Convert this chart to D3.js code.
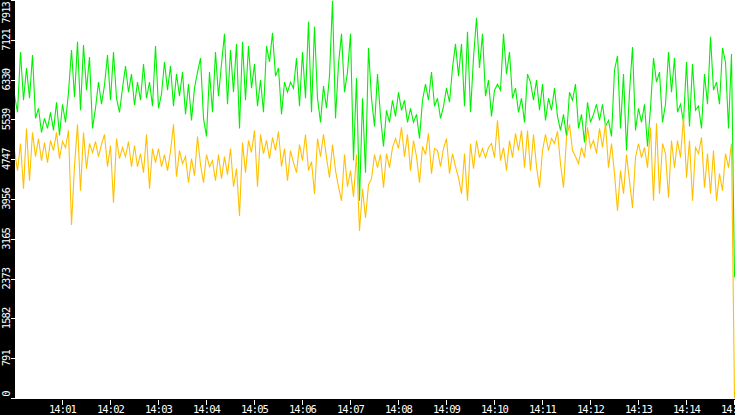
<!DOCTYPE html>
<html>
<head>
<meta charset="utf-8">
<script src="https://cdn.jsdelivr.net/npm/d3@7"></script>
<style>
  html, body { margin: 0; padding: 0; background: #000; }
  svg { display: block; }
  .tick-label { fill: #fff; font-family: "DejaVu Sans Mono", monospace; font-size: 10.5px; letter-spacing: -0.9px; }
</style>
</head>
<body>
<div id="chart"></div>
<script>
// -- DATA -- //
// samples every 3.75 s from 14:00:00 to 14:15:00
const sampleStart = new Date(2024, 0, 1, 14, 0, 0);
const sampleStepMs = 3750;

// green series
const inValues = [
  6020,5680,6880,5920,6560,5960,6820,5560,5760,5280,
  5560,5360,5680,5320,5880,5220,5840,5480,6080,6920,
  5980,7080,5720,7020,6120,6780,5360,5760,6280,5840,
  6220,6820,5920,6880,5960,5680,6160,6600,6080,6440,
  5820,6280,5920,6640,5960,6280,5800,7000,5760,6040,
  6680,6120,6600,5800,6440,6000,6480,5640,6240,5520,
  6160,6480,6760,5560,5200,6480,5680,6880,6000,6640,
  7240,5840,6920,6080,7040,5360,7080,5920,7000,6160,
  6640,5800,6320,5680,7000,6680,7260,6400,6560,5640,
  6280,6080,6280,6160,6760,5800,6880,5960,7480,5680,
  7380,5960,5480,6200,5760,6400,7900,5560,6640,7240,
  6080,6480,7240,4720,6360,3920,5960,4480,6960,5960,
  5400,6440,5600,5000,5720,5480,5920,5600,6080,5720,
  5920,5480,5760,5480,5640,5160,5920,6240,5920,6480,
  5800,5960,5560,5800,6160,5880,6560,7040,6400,7040,
  5800,7280,5680,6760,7560,6560,7240,6000,6320,5600,
  6120,6240,6120,7240,6440,6880,5960,6160,5680,5960,
  5480,6440,6280,5920,6320,5720,6240,5520,5960,5720,
  6160,5600,5320,5640,5200,6080,5920,6240,5360,5640,
  5080,5880,5480,5640,5840,5520,5840,5400,5520,5200,
  6520,6800,5360,6440,4920,6080,6980,5320,5760,5480,
  5840,5000,5760,6760,6280,6480,5480,5840,6880,6080,
  6760,5680,5840,5480,6680,5400,6640,5720,5800,5360,
  6440,5840,7180,6120,6280,5840,6960,6680,5360,6840,
  2400
];

// orange series
const outValues = [
  4920,4520,5060,4160,5360,4320,5280,4800,5160,4720,
  5080,4680,5120,4920,5280,4760,5100,4980,5320,3440,
  4620,5440,4120,5280,4560,5060,4880,5100,4800,5040,
  5240,4600,5020,3880,5160,4760,4980,4800,5100,4600,
  5020,4600,4860,4480,5240,4160,4960,4680,4960,4600,
  4840,4520,4900,5440,4400,4920,4660,4800,4280,4760,
  4420,5200,4640,4280,4840,4600,4720,4320,4840,4360,
  4800,4440,4960,4200,4560,3620,5080,4480,5120,4880,
  5320,4200,5240,4860,5120,4760,5180,4920,5300,4600,
  4960,4320,4920,4680,4480,5040,4720,5240,4520,4700,
  4060,5160,4800,5240,4780,4380,5040,4520,4200,3920,
  4840,4200,4520,4000,4840,3320,4160,3580,4240,4360,
  4840,4580,4840,4180,4860,4580,4980,5160,4960,5380,
  4800,5240,4520,5120,4800,4280,5000,4840,5260,4460,
  4960,4920,4600,4960,5160,4460,4860,4600,4380,4060,
  4860,3920,5060,4560,5120,4780,4960,4780,4980,5060,
  4780,5520,4720,4980,4520,5120,4780,5260,4920,5320,
  4580,5320,4520,5240,4600,4180,4920,5240,4920,5160,
  5060,5300,4660,4180,5180,5440,4920,4800,4660,4980,
  4780,5380,4980,5120,4860,5360,4980,5460,4580,5060,
  4460,3720,4520,4060,4840,4320,3780,4780,5060,4780,
  4980,4580,5380,3920,5460,4060,5060,4860,3980,5120,
  4580,5120,4780,5580,4380,5120,3920,4980,4860,5180,
  4180,4860,4060,4920,3920,4460,4120,4860,4580,5060,
  0
];

const yMax = 7913;
const yTickLabels = ["0","791","1582","2373","3165","3956","4747","5539","6330","7121","7913"];
const xTickLabels = ["14:01","14:02","14:03","14:04","14:05","14:06","14:07","14:08",
                     "14:09","14:10","14:11","14:12","14:13","14:14","14:15"];

const width = 735;
const height = 415;
const plotLeft = 15;
const plotBottom = 398;

// -- SCALES -- //
const x = d3.scaleTime()
    .domain([sampleStart, new Date(sampleStart.getTime() + 15 * 60000)])
    .range([14, 734]);

const y = d3.scaleLinear()
    .domain([0, yMax])
    .range([plotBottom, 0]);

const parseMinute = d3.timeParse("%H:%M");
const minuteDates = xTickLabels.map(s => {
    let p = parseMinute(s);
    return new Date(2024, 0, 1, p.getHours(), p.getMinutes(), 0);
});

const toPoints = vals => vals.map((v, i) => ({ t: new Date(sampleStart.getTime() + i * sampleStepMs), v: v }));

// -- SVG -- //
const svg = d3.select("#chart")
    .append("svg")
    .attr("width", width)
    .attr("height", height);

svg.append("rect")
    .attr("width", width).attr("height", height)
    .attr("fill", "#000");

svg.append("clipPath").attr("id", "plot-clip")
    .append("rect")
    .attr("x", plotLeft).attr("y", 0)
    .attr("width", width - plotLeft).attr("height", plotBottom + 1);

svg.append("rect")
    .attr("x", plotLeft).attr("y", 0)
    .attr("width", width - plotLeft).attr("height", plotBottom + 1)
    .attr("fill", "#fff");

// -- LINES -- //
const line = d3.line()
    .x(d => Math.round(x(d.t)) + 0.5)
    .y(d => y(d.v));

const plot = svg.append("g").attr("clip-path", "url(#plot-clip)");

plot.append("path")
    .datum(toPoints(inValues))
    .attr("d", line)
    .attr("fill", "none")
    .attr("stroke", "#00f000")
    .attr("stroke-width", 1.1);

plot.append("path")
    .datum(toPoints(outValues))
    .attr("d", line)
    .attr("fill", "none")
    .attr("stroke", "#ffc000")
    .attr("stroke-width", 1.1);

// -- Y AXIS (rotated labels in left strip) -- //
const yTicks = yTickLabels.map((s, i) => ({ label: s, v: i * yMax / 10 }));

const yAxis = svg.append("g");
yAxis.selectAll("line")
    .data(yTicks)
    .enter()
    .append("line")
    .attr("x1", 11).attr("x2", plotLeft)
    .attr("y1", d => Math.min(Math.round(y(d.v)), plotBottom) + 0.5)
    .attr("y2", d => Math.min(Math.round(y(d.v)), plotBottom) + 0.5)
    .attr("stroke", "#fff")
    .attr("shape-rendering", "crispEdges");

yAxis.selectAll("text")
    .data(yTicks)
    .enter()
    .append("text")
    .attr("class", "tick-label")
    .attr("text-anchor", (d, i) => i === yTicks.length - 1 ? "end" : "middle")
    .attr("transform", (d, i) => {
        let cy = y(d.v);
        if (i === yTicks.length - 1) cy = 2;      // top label pushed inside
        if (i === 0) cy = plotBottom - 4;        // bottom label pulled up
        return "translate(10," + cy + ") rotate(-90)";
    })
    .text(d => d.label);

// -- X AXIS (bottom strip) -- //
const xAxis = svg.append("g");
xAxis.selectAll("line")
    .data(minuteDates)
    .enter()
    .append("line")
    .attr("x1", d => Math.round(x(d)) + 0.5)
    .attr("x2", d => Math.round(x(d)) + 0.5)
    .attr("y1", 400).attr("y2", 405)
    .attr("stroke", "#fff")
    .attr("shape-rendering", "crispEdges");

// last label runs off the right edge, as in the original
xAxis.selectAll("text")
    .data(minuteDates)
    .enter()
    .append("text")
    .attr("class", "tick-label")
    .attr("text-anchor", "middle")
    .attr("x", d => x(d) + 0.5)
    .attr("y", 413)
    .text((d, i) => xTickLabels[i]);
</script>
</body>
</html>
